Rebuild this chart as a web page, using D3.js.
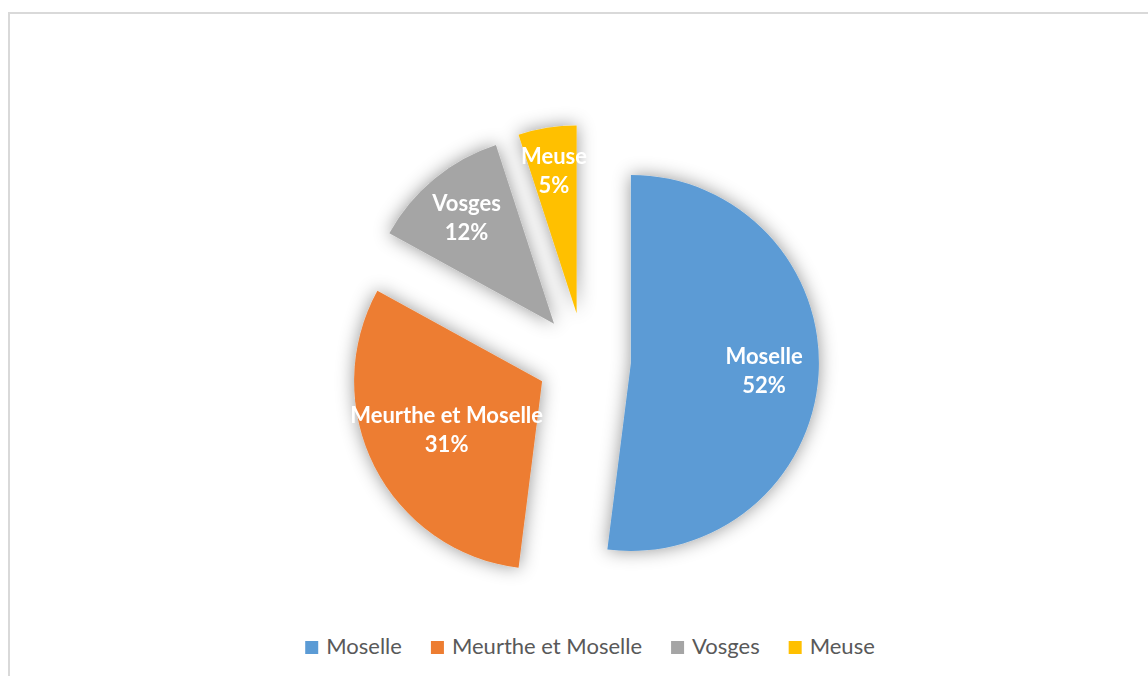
<!DOCTYPE html>
<html>
<head>
<meta charset="utf-8">
<script src="https://cdn.jsdelivr.net/npm/d3@7"></script>
<style>
  html, body { margin: 0; padding: 0; background: #fff; }
  svg { display: block; }
</style>
</head>
<body>
<svg id="chart" width="1148" height="676"></svg>
<script>
// data
const regions = ['Moselle', 'Meurthe et Moselle', 'Vosges', 'Meuse'];
const shares = [52, 31, 12, 5];
const colours = ['#5B9BD5', '#ED7D31', '#A5A5A5', '#FFC000'];

// how far out (fraction of radius) each label sits, Excel-ish best fit
const labelDist = { 'Moselle': 0.71, 'Meurthe et Moselle': 0.57, 'Vosges': 0.73, 'Meuse': 0.77 };

const svg = d3.select('#chart');
const cx = 584, cy = 360, radius = 188, explode = 47;
const font = "Lato, 'Open Sans', sans-serif";

// chart area frame (runs off the right / bottom edge)
svg.append('rect')
    .attr('x', 9).attr('y', 13)
    .attr('width', 1200).attr('height', 700)
    .attr('fill', '#fff')
    .attr('stroke', '#d9d9d9')
    .attr('stroke-width', 2);

const defs = svg.append('defs');
defs.append('filter')
    .attr('id', 'halo')
    .attr('x', '-30%').attr('y', '-30%')
    .attr('width', '160%').attr('height', '160%')
    .append('feDropShadow')
    .attr('dx', 0).attr('dy', 0)
    .attr('stdDeviation', 9)
    .attr('flood-color', '#000')
    .attr('flood-opacity', 0.42);

const colour = d3.scaleOrdinal().domain(regions).range(colours);

const pie = d3.pie().sort(null).value(d => d.value);
const slices = pie(regions.map((name, i) => ({ name, value: shares[i] })));

const arc = d3.arc().innerRadius(0).outerRadius(radius);

// offset of an exploded slice along its mid angle
function shift(d, dist) {
    const a = (d.startAngle + d.endAngle) / 2;
    return [Math.sin(a) * dist, -Math.cos(a) * dist];
}

const g = svg.append('g')
    .attr('transform', `translate(${cx},${cy})`);

g.append('g')
    .attr('filter', 'url(#halo)')
    .selectAll('path')
    .data(slices)
    .join('path')
    .attr('transform', d => `translate(${shift(d, explode)})`)
    .attr('d', arc)
    .attr('fill', d => colour(d.data.name));

// data labels
const labels = g.append('g')
    .selectAll('text')
    .data(slices)
    .join('text')
    .attr('transform', d => {
        const [ox, oy] = shift(d, explode);
        const [lx, ly] = shift(d, radius * labelDist[d.data.name]);
        return `translate(${ox + lx},${oy + ly})`;
    })
    .attr('text-anchor', 'middle')
    .attr('font-family', font)
    .attr('font-weight', 'bold')
    .attr('font-size', 22)
    .attr('fill', '#fff');

labels.append('tspan').attr('x', 0).attr('y', -7).text(d => d.data.name);
labels.append('tspan').attr('x', 0).attr('y', 22).text(d => d.data.value + '%');

// legend
const legend = svg.append('g');
const items = legend.selectAll('g')
    .data(regions)
    .join('g');

items.append('rect')
    .attr('y', 641)
    .attr('width', 13).attr('height', 13)
    .attr('fill', d => colour(d));

items.append('text')
    .attr('x', 21)
    .attr('y', 654)
    .attr('font-family', font)
    .attr('font-size', 22)
    .attr('fill', '#595959')
    .text(d => d);

let xpos = 0;
items.each(function () {
    const w = d3.select(this).select('text').node().getComputedTextLength();
    d3.select(this).attr('transform', `translate(${xpos},0)`);
    xpos += 21 + w + 29;
});
const total = xpos - 29;
legend.attr('transform', `translate(${590 - total / 2},0)`);
</script>
</body>
</html>
